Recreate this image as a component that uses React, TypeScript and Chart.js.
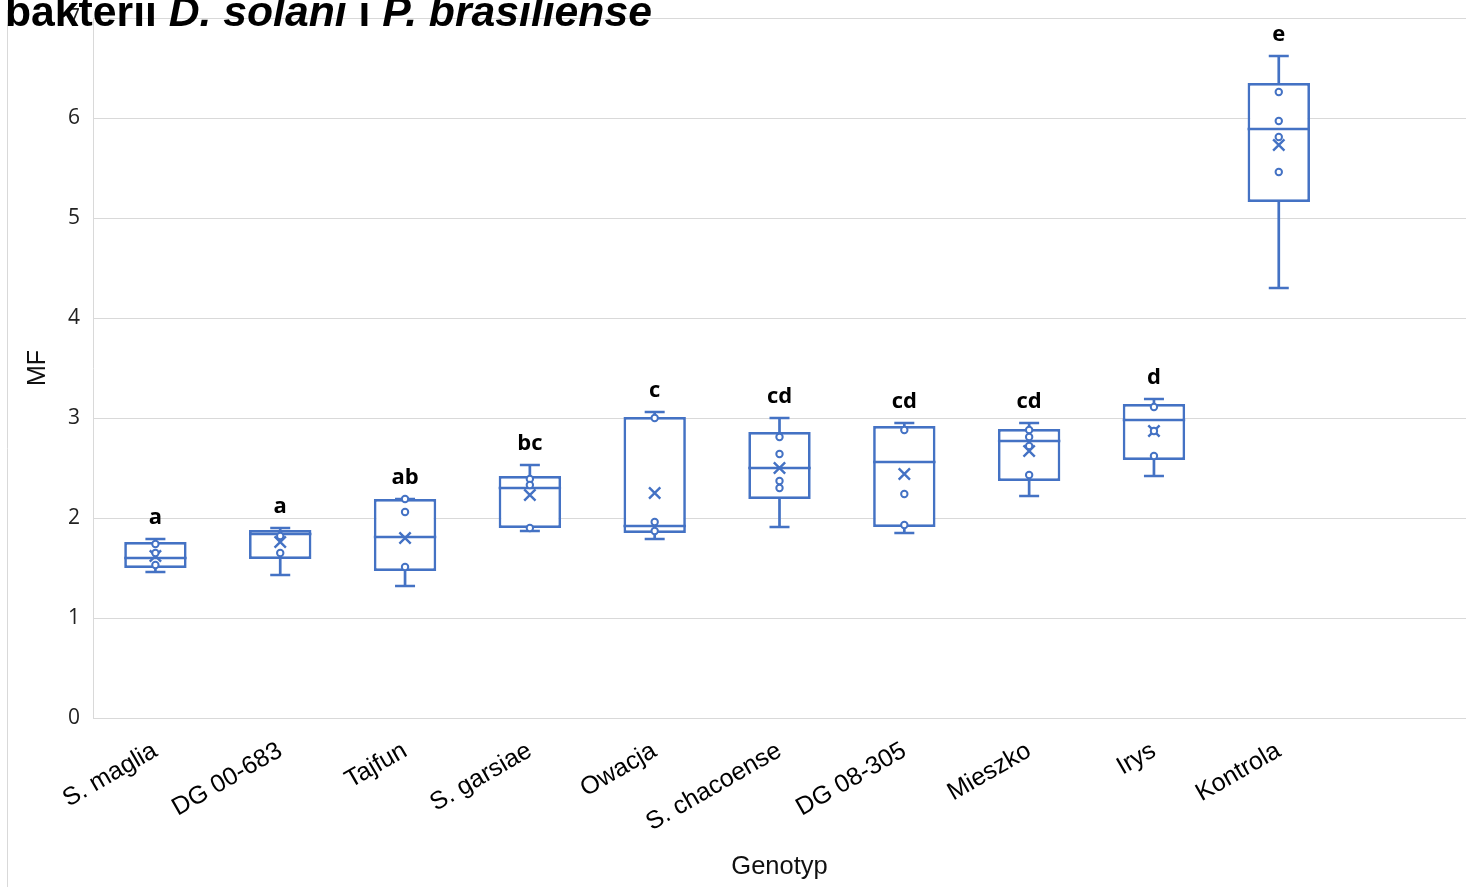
import { useEffect, useRef } from 'react';
import { Chart, registerables } from 'chart.js';

Chart.register(...registerables);

// ---------- data ----------
const categories = ['S. maglia', 'DG 00-683', 'Tajfun', 'S. garsiae', 'Owacja', 'S. chacoense', 'DG 08-305', 'Mieszko', 'Irys', 'Kontrola', ''];
const mins = [1.46, 1.43, 1.32, 1.87, 1.79, 1.91, 1.85, 2.22, 2.42, 4.30];
const q1s = [1.50, 1.59, 1.47, 1.90, 1.85, 2.19, 1.91, 2.37, 2.58, 5.16];
const medians = [1.60, 1.84, 1.81, 2.30, 1.92, 2.50, 2.56, 2.77, 2.98, 5.89];
const q3s = [1.76, 1.88, 2.19, 2.42, 3.01, 2.86, 2.92, 2.89, 3.14, 6.35];
const maxs = [1.79, 1.90, 2.19, 2.53, 3.06, 3.00, 2.95, 2.95, 3.19, 6.62];
const means = [1.62, 1.76, 1.80, 2.23, 2.25, 2.50, 2.44, 2.67, 2.87, 5.73];
const innerPoints = [
  [1.74, 1.65, 1.53],
  [1.82, 1.65],
  [2.19, 2.06, 1.51],
  [2.39, 2.33, 1.90],
  [3.00, 1.96, 1.87],
  [2.81, 2.64, 2.37, 2.30],
  [2.88, 2.24, 1.93],
  [2.88, 2.81, 2.72, 2.43],
  [3.11, 2.87, 2.62],
  [6.26, 5.97, 5.81, 5.46],
];
const letters = ['a', 'a', 'ab', 'bc', 'c', 'cd', 'cd', 'cd', 'd', 'e'];
const yTicks = [0, 1, 2, 3, 4, 5, 6, 7];
const titleParts: [string, boolean][] = [
  ['bakterii ', false],
  ['D. solani', true],
  [' i ', false],
  ['P. brasiliense', true],
];
const yTitle = 'MF';
const xTitle = 'Genotyp';

const BLUE = '#4472C4';
const GRID = '#d9d9d9';
const LW = 2.7;

export default function App() {
  const ref = useRef<HTMLCanvasElement>(null);

  useEffect(() => {
    const canvas = ref.current;
    if (!canvas) return;

    const pointData = innerPoints.flatMap((arr, i) => arr.map((v) => ({ x: categories[i], y: v })));
    const meanData = means.map((v, i) => ({ x: categories[i], y: v }));

    const framePlugin = {
      id: 'frame',
      beforeDraw(chart: any) {
        const { ctx } = chart;
        ctx.save();
        ctx.fillStyle = '#ffffff';
        ctx.fillRect(0, 0, chart.width, chart.height);
        ctx.strokeStyle = GRID;
        ctx.lineWidth = 1;
        ctx.beginPath();
        ctx.moveTo(7.5, 887);
        ctx.lineTo(7.5, 10);
        ctx.stroke();
        ctx.restore();
      },
    };

    const whiskerPlugin = {
      id: 'whiskers',
      beforeDatasetsDraw(chart: any) {
        const { ctx } = chart;
        const xs = chart.scales.x;
        const ys = chart.scales.y;
        ctx.save();
        ctx.strokeStyle = BLUE;
        ctx.lineWidth = LW;
        for (let i = 0; i < mins.length; i++) {
          const px = xs.getPixelForValue(i);
          const pMax = ys.getPixelForValue(maxs[i]);
          const pMin = ys.getPixelForValue(mins[i]);
          const pQ1 = ys.getPixelForValue(q1s[i]);
          const pQ3 = ys.getPixelForValue(q3s[i]);
          ctx.beginPath();
          ctx.moveTo(px, pQ3);
          ctx.lineTo(px, pMax);
          ctx.moveTo(px - 10, pMax);
          ctx.lineTo(px + 10, pMax);
          ctx.moveTo(px, pQ1);
          ctx.lineTo(px, pMin);
          ctx.moveTo(px - 10, pMin);
          ctx.lineTo(px + 10, pMin);
          ctx.stroke();
        }
        ctx.restore();
      },
    };

    const medianPlugin = {
      id: 'medians',
      afterDatasetDraw(chart: any, args: any) {
        if (args.meta.type !== 'bar') return;
        const { ctx } = chart;
        const ys = chart.scales.y;
        ctx.save();
        ctx.strokeStyle = BLUE;
        ctx.lineWidth = LW;
        args.meta.data.forEach((bar: any, i: number) => {
          if (medians[i] === undefined) return;
          const half = bar.width / 2;
          const py = ys.getPixelForValue(medians[i]);
          ctx.beginPath();
          ctx.moveTo(bar.x - half, py);
          ctx.lineTo(bar.x + half, py);
          ctx.stroke();
        });
        ctx.restore();
      },
    };

    const lettersPlugin = {
      id: 'letters',
      afterDatasetsDraw(chart: any) {
        const { ctx } = chart;
        const xs = chart.scales.x;
        const ys = chart.scales.y;
        ctx.save();
        ctx.fillStyle = '#000000';
        ctx.font = 'bold 22px "Open Sans"';
        ctx.textAlign = 'center';
        ctx.textBaseline = 'middle';
        for (let i = 0; i < letters.length; i++) {
          ctx.fillText(letters[i], xs.getPixelForValue(i), ys.getPixelForValue(maxs[i]) - 21);
        }
        ctx.restore();
      },
    };

    const titlePlugin = {
      id: 'mixedTitle',
      afterDraw(chart: any) {
        const { ctx } = chart;
        ctx.save();
        ctx.fillStyle = '#000000';
        ctx.textBaseline = 'alphabetic';
        ctx.textAlign = 'left';
        let cx = 5;
        for (const [t, it] of titleParts) {
          ctx.font = `${it ? 'italic ' : ''}bold 42.7px "Liberation Sans"`;
          ctx.fillText(t, cx, 26);
          cx += ctx.measureText(t).width;
        }
        ctx.restore();
      },
    };

    const chart = new Chart(canvas, {
      type: 'bar',
      data: {
        labels: categories,
        datasets: [
          {
            type: 'line',
            label: 'points',
            data: pointData as any,
            showLine: false,
            pointStyle: 'circle',
            pointRadius: 3.2,
            pointBorderWidth: 2,
            pointBackgroundColor: '#ffffff',
            pointBorderColor: BLUE,
            order: 0,
          } as any,
          {
            type: 'line',
            label: 'mean',
            data: meanData as any,
            showLine: false,
            pointStyle: 'crossRot',
            pointRadius: 8,
            pointBorderWidth: 2.4,
            pointBorderColor: BLUE,
            order: 0,
          } as any,
          {
            label: 'box',
            data: q1s.map((q, i) => [q, q3s[i]]) as any,
            backgroundColor: '#ffffff',
            borderColor: BLUE,
            borderWidth: LW,
            borderSkipped: false,
            barPercentage: 0.5,
            categoryPercentage: 1,
            order: 2,
          } as any,
        ],
      },
      options: {
        animation: false,
        responsive: false,
        events: [],
        layout: { autoPadding: false, padding: { left: 8, top: 18, right: 0, bottom: 0 } },
        plugins: {
          legend: { display: false },
          tooltip: { enabled: false },
          title: { display: false },
        },
        scales: {
          x: {
            type: 'category',
            offset: true,
            grid: { display: false, drawTicks: false },
            border: { display: true, color: GRID, width: 1 },
            ticks: {
              autoSkip: false,
              minRotation: 30,
              maxRotation: 30,
              padding: 18,
              color: '#000000',
              font: { family: '"Liberation Sans", Arial, sans-serif', size: 25 },
            },
            title: {
              display: true,
              text: xTitle,
              color: '#111111',
              font: { family: '"Liberation Sans", Arial, sans-serif', size: 25.5 },
              padding: { top: 0, bottom: 5 },
            },
            afterFit(scale: any) {
              scale.height = 169;
              scale.paddingLeft = 0;
              scale.paddingRight = 0;
            },
          },
          y: {
            type: 'linear',
            min: 0,
            max: 7,
            afterBuildTicks(scale: any) {
              scale.ticks = yTicks.map((v) => ({ value: v }));
            },
            grid: { color: GRID, lineWidth: 1, drawTicks: false },
            border: { display: true, color: GRID, width: 1 },
            ticks: {
              padding: 13,
              color: '#222222',
              font: { family: '"Open Sans", sans-serif', size: 21 },
            },
            title: {
              display: true,
              text: yTitle,
              color: '#111111',
              font: { family: '"Liberation Sans", Arial, sans-serif', size: 25 },
              padding: { top: 15, bottom: 0 },
            },
            afterFit(scale: any) {
              scale.width = 85;
              scale.paddingTop = 0;
              scale.paddingBottom = 0;
            },
          },
        },
      },
      plugins: [framePlugin, whiskerPlugin, medianPlugin, lettersPlugin, titlePlugin],
    });

    return () => chart.destroy();
  }, []);

  return (
    <div style={{ position: 'absolute', left: 0, top: 0, width: 1466, height: 887, overflow: 'hidden' }}>
      <canvas ref={ref} width={1466} height={887} style={{ display: 'block', width: 1466, height: 887 }} />
    </div>
  );
}
